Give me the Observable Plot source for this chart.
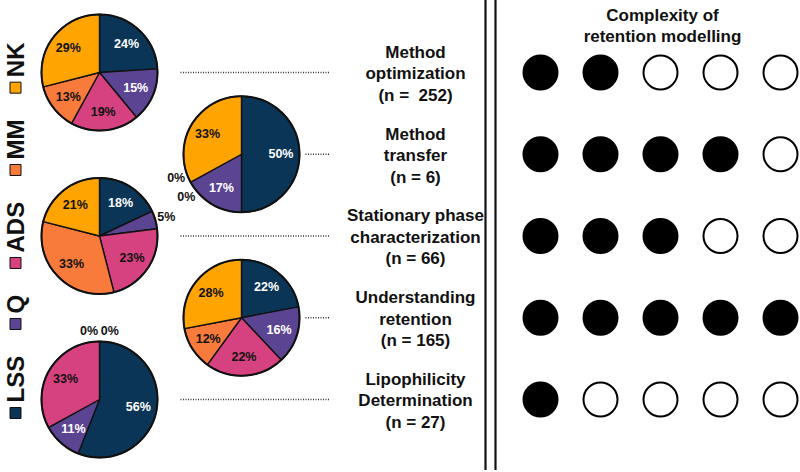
<!DOCTYPE html>
<html><head><meta charset="utf-8">
<script src="https://cdn.jsdelivr.net/npm/d3@7"></script>
<script src="https://cdn.jsdelivr.net/npm/@observablehq/plot@0.6"></script>
<style>
html,body{margin:0;padding:0;background:#fff;}
#chart{width:800px;height:472px;overflow:hidden;}
</style>
</head><body><div id="chart"></div>
<script>
// ---------- DATA ----------
const categories = ["LSS", "Q", "ADS", "MM", "NK"];
const categoryColors = ["#0b3556", "#5b4592", "#d6427f", "#f97b3c", "#ffa400"];
const lssShare = [24, 50, 18, 22, 56];
const qShare   = [15, 17, 5, 16, 11];
const adsShare = [19, 0, 23, 22, 33];
const mmShare  = [13, 0, 33, 12, 0];
const nkShare  = [29, 33, 21, 28, 0];
const applicationNames = ["Method\noptimization", "Method\ntransfer", "Stationary phase\ncharacterization", "Understanding\nretention", "Lipophilicity\nDetermination"];
const applicationN = ["\u00a0252", "6", "66", "165", "27"];
const complexityLevel = [2, 4, 3, 5, 1];
const complexityMax = 5;
const complexityTitle = "Complexity of\nretention modelling";

// ---------- LAYOUT ----------
const W = 800, H = 472, R = 58;
const FONT = "'Liberation Sans', Arial, Helvetica, sans-serif";
const rowY = i => 72 + i * 81.75;
const pieX = i => (i % 2 ? 241 : 99);
const shareTable = [lssShare, qShare, adsShare, mmShare, nkShare];

const rows = applicationNames.map((name, i) => ({
  i, cx: pieX(i), y: rowY(i),
  text: name + "\n(n = " + applicationN[i] + ")",
  lx1: i % 2 ? 305 : 180
}));

const slicePts = [], pctLabels = [];
rows.forEach(row => {
  const i = row.i;
  const vals = shareTable.map(a => a[i]);
  const arcs = d3.pie().sort(null).value(d => d)(vals);
  const cx = row.cx, cy = row.y;
  arcs.forEach((a, k) => {
    if (a.value <= 0) return;
    const id = i + "-" + k, fill = categoryColors[k];
    slicePts.push({id, x: cx, y: cy, fill});
    const n = Math.max(2, Math.ceil((a.endAngle - a.startAngle) / 0.02));
    for (let j = 0; j <= n; j++) {
      const t = a.startAngle + (a.endAngle - a.startAngle) * j / n;
      slicePts.push({id, x: cx + R * Math.sin(t), y: cy - R * Math.cos(t), fill});
    }
  });
  const zeros = arcs.map((a, k) => ({a, k})).filter(d => d.a.value === 0);
  arcs.forEach((a, k) => {
    let mid = (a.startAngle + a.endAngle) / 2, rr, color;
    if (a.value === 0) {
      const zi = zeros.findIndex(z => z.k === k);
      mid += (zi - (zeros.length - 1) / 2) * 0.3;
      rr = R * 1.2; color = "#111";
    } else if (a.value <= 5) {
      rr = R * 1.2; color = "#111";
    } else {
      rr = R * 0.68; color = k < 2 ? "#fff" : "#111";
    }
    pctLabels.push({x: cx + rr * Math.sin(mid), y: cy - rr * Math.cos(mid), text: a.value + "%", fill: color});
  });
});

// legend (vertical, rotated)
const LF = 24;
const ctx = document.createElement("canvas").getContext("2d");
ctx.font = `bold ${LF}px ${FONT}`;
const lens = categories.map(c => ctx.measureText(c).width);
const SQ = 11, SQGAP = 5, legBottom = 418, legTop = 42;
const fixed = lens.reduce((s, v) => s + v, 0) + categories.length * (SQ + SQGAP);
const gap = (legBottom - legTop - fixed) / (categories.length - 1);
const legendSquares = [], legendTexts = [];
let pos = legBottom;
categories.forEach((c, k) => {
  legendSquares.push({x: 15, y: pos - SQ / 2, fill: categoryColors[k]});
  const start = pos - SQ - SQGAP;
  legendTexts.push({x: 16, y: start, text: c});
  pos = start - lens[k] - gap;
});

const dots = [];
rows.forEach(row => {
  for (let j = 0; j < complexityMax; j++)
    dots.push({j, y: row.y, filled: j < complexityLevel[row.i]});
});

const chart = Plot.plot({
  width: W, height: H, margin: 0,
  x: {domain: [0, W], range: [0, W], axis: null},
  y: {domain: [0, H], range: [0, H], axis: null},
  color: {type: "identity"},
  style: {fontFamily: FONT, background: "#fff", overflow: "visible"},
  marks: [
    Plot.line(slicePts, {x: "x", y: "y", z: "id", fill: "fill", stroke: "#111", strokeWidth: 1.4, curve: "linear-closed", strokeLinejoin: "round"}),
    Plot.dot(rows, {x: "cx", y: "y", r: R, stroke: "#111", strokeWidth: 2, fill: "none"}),
    Plot.text(pctLabels, {x: "x", y: "y", text: "text", fill: "fill", fontSize: 12.5, fontWeight: "bold"}),
    Plot.link(rows, {x1: "lx1", x2: () => 330, y1: "y", y2: "y", stroke: "#333", strokeWidth: 1.3, strokeDasharray: "1,1.5"}),
    Plot.text(rows, {x: () => 415, y: "y", text: "text", fontSize: 17, fontWeight: "bold", lineHeight: 1.27, fill: "#111"}),
    Plot.ruleX([485, 495], {y1: 0, y2: 470, stroke: "#111", strokeWidth: 2.2}),
    Plot.text([complexityTitle], {x: () => 662, y: () => 24, text: d => d, fontSize: 17, fontWeight: "bold", lineHeight: 1.22, fill: "#111"}),
    Plot.dot(dots, {x: d => 540 + 60 * d.j, y: "y", r: 17, fill: d => d.filled ? "#000" : "#fff", stroke: "#000", strokeWidth: 2}),
    Plot.dot(legendSquares, {x: "x", y: "y", symbol: "square", r: SQ / Math.sqrt(Math.PI), fill: "fill", stroke: "#111", strokeWidth: 1}),
    Plot.text(legendTexts, {x: "x", y: "y", text: "text", rotate: -90, textAnchor: "start", fontSize: LF, fontWeight: "bold", fill: "#111"})
  ]
});
document.getElementById("chart").appendChild(chart);
</script>
</body></html>
